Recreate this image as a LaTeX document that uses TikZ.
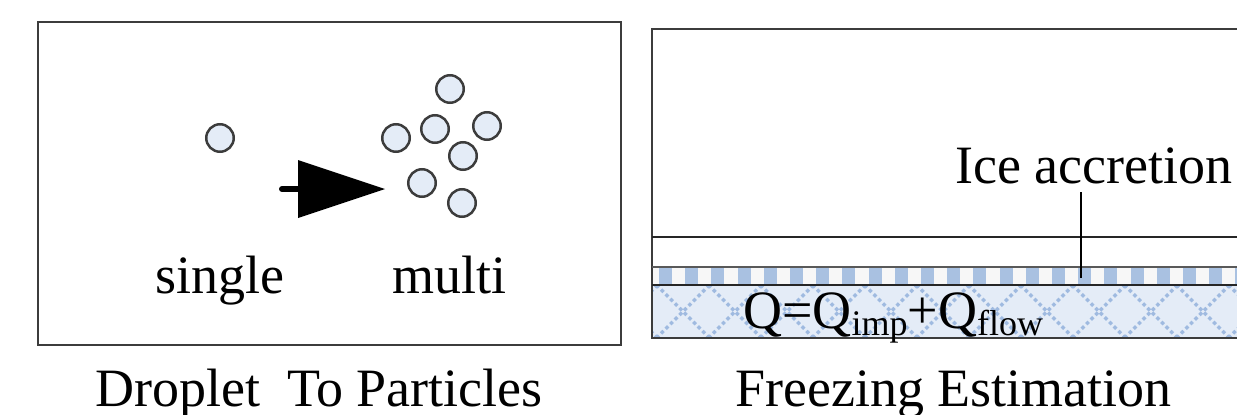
\documentclass[tikz,border=0pt]{standalone}
\usepackage{fontspec}
\setmainfont{Liberation Serif}
\newfontfamily\labelfont{Liberation Serif}
\usetikzlibrary{calc}
\definecolor{edge}{HTML}{3C3C3C}
\definecolor{dropfill}{HTML}{E4ECF7}
\definecolor{icestripe}{HTML}{A9C1E1}
\definecolor{icebg}{HTML}{E4ECF7}
\definecolor{icelattice}{HTML}{9FBAE0}
\definecolor{stripebg}{HTML}{F7F7F7}
\tikzset{
  frame/.style={draw=edge, line width=2.4pt},
  layerline/.style={draw=black!85, line width=2.2pt},
  drop/.style={circle, draw=edge, fill=dropfill, line width=2.5pt,
    minimum size=27.5pt, inner sep=0pt},
  lbl/.style={inner sep=0pt, anchor=base west,
    font=\labelfont\fontsize{54}{60}\selectfont},
  lattice/.style={draw=icelattice, line width=3.4pt, dash pattern=on 3.5pt off 3pt},
}
\begin{document}
\begin{tikzpicture}[x=1pt,y=-1pt]
\useasboundingbox (0,0) rectangle (1237,415);
\clip (0,0) rectangle (1237,415);

% ---- left panel: droplet splitting into particles ----
\draw[frame] (38,22) rectangle (621,345);

\node[drop] (d0) at (220,138) {};
\node[drop] (d1) at (450,89) {};
\node[drop] (d2) at (396,138) {};
\node[drop] (d3) at (435,129) {};
\node[drop] (d4) at (487,126) {};
\node[drop] (d5) at (463,156) {};
\node[drop] (d6) at (422,183) {};
\node[drop] (d7) at (462,203) {};

\coordinate (arrtail) at (282,189);
\coordinate (arrbase) at (298,189);
\coordinate (arrtip) at (385,189);
\draw[line width=6pt, line cap=round] (arrtail) -- (arrbase);
\fill ($(arrbase)+(0,-29)$) -- (arrtip) -- ($(arrbase)+(0,29)$) -- cycle;

\node[lbl] (single) at (155,293) {single};
\node[lbl] (multi) at (392,293) {multi};
\node[lbl] (cap1) at (95,406) {Droplet\ \ To Particles};

% ---- right panel: freezing layers ----
\fill[icebg] (652,285) rectangle (1240,338);
\begin{scope}
  \clip (652,285) rectangle (1240,338);
  \foreach \k in {0,...,13} {
    \draw[lattice] ({604.5+52*\k},285) -- ({657.5+52*\k},338);
    \draw[lattice] ({657.5+52*\k},285) -- ({604.5+52*\k},338);
  }
\end{scope}
\fill[stripebg] (652,267) rectangle (1240,285);
\foreach \k in {0,...,22}
  \fill[icestripe] ({659+26.2*\k},267) rectangle ++(13,18);

\draw[frame] (1240,29) -- (652,29) -- (652,338) -- (1240,338);
\draw[layerline] (652,237) -- (1240,237);
\draw[draw=edge!85, line width=1.6pt] (652,267) -- (1240,267);
\draw[layerline] (652,285) -- (1240,285);

\node[lbl] (ice) at (955,183) {Ice accretion};
\coordinate (leadtop) at (1081,192);
\coordinate (leadtip) at (1081,278);
\draw[line width=2.2pt] (leadtop) -- (leadtip);

\node[lbl] (formula) at (743,328) {Q=Q\raisebox{-7pt}{\fontsize{36}{40}\selectfont imp}+Q\raisebox{-7pt}{\fontsize{36}{40}\selectfont flow}};

\node[lbl] (cap2) at (735,406) {Freezing Estimation};
\end{tikzpicture}
\end{document}
